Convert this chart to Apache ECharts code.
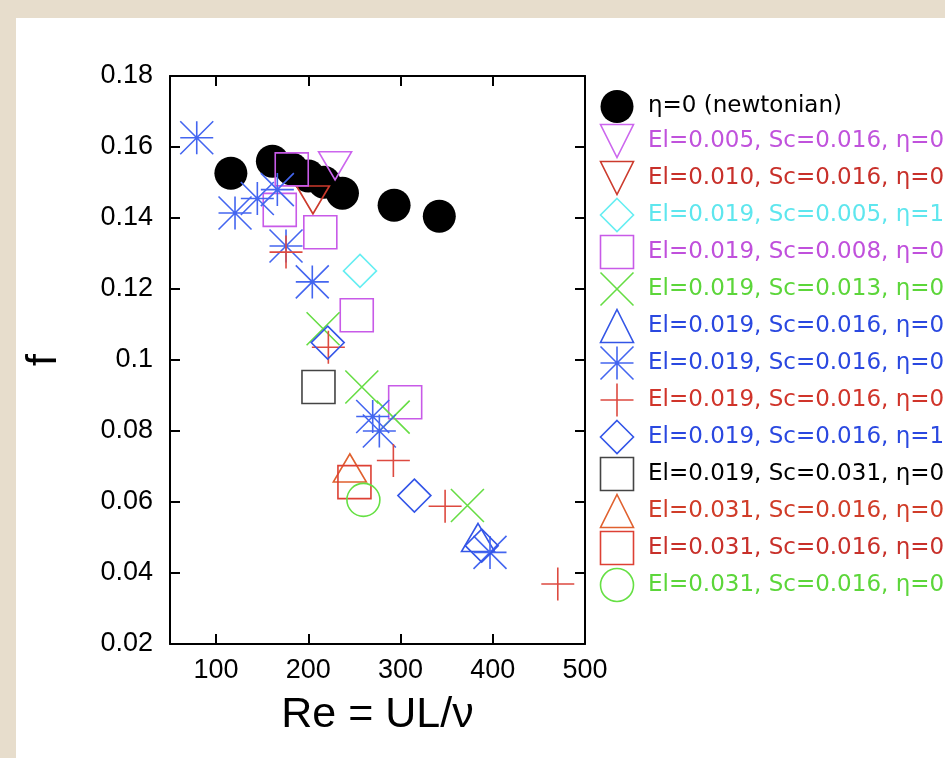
<!DOCTYPE html>
<html>
<head>
<meta charset="utf-8">
<script src="https://cdn.jsdelivr.net/npm/echarts@6/dist/echarts.min.js"></script>
<style>
  html, body { margin: 0; padding: 0; }
  body { width: 945px; height: 758px; background: #e7ddcc; position: relative; overflow: hidden; }
  #panel { position: absolute; left: 16px; top: 18px; right: 0; bottom: 0; background: #ffffff; }
  #chart { position: absolute; left: 0; top: 0; width: 945px; height: 758px; }
</style>
</head>
<body>
<div id="panel"></div>
<div id="chart"></div>
<script>
// ---- tick labels ----
const xTickLabels = [100, 200, 300, 400, 500];
const xTickMarks = [100, 200, 300, 400];
const yTickLabels = [0.02, 0.04, 0.06, 0.08, 0.10, 0.12, 0.14, 0.16, 0.18];
const yTickMarks = [0.04, 0.06, 0.08, 0.10, 0.12, 0.14, 0.16];

// ---- series names ----
const seriesNames = [
  'η=0 (newtonian)',
  'El=0.005, Sc=0.016, η=0.5',
  'El=0.010, Sc=0.016, η=0.5',
  'El=0.019, Sc=0.005, η=1',
  'El=0.019, Sc=0.008, η=0.5',
  'El=0.019, Sc=0.013, η=0.5',
  'El=0.019, Sc=0.016, η=0.1',
  'El=0.019, Sc=0.016, η=0.5',
  'El=0.019, Sc=0.016, η=0.9',
  'El=0.019, Sc=0.016, η=1',
  'El=0.019, Sc=0.031, η=0.5',
  'El=0.031, Sc=0.016, η=0.1',
  'El=0.031, Sc=0.016, η=0.5',
  'El=0.031, Sc=0.016, η=0.9'
];

// ---- data (Re, f) ----
const newtRe = [116, 161, 182, 200, 217, 237, 293, 342];
const newtF  = [0.1526, 0.1560, 0.1538, 0.1518, 0.1501, 0.1470, 0.1436, 0.1405];

const el005Re = [229];
const el005F  = [0.1547];

const el010Re = [205];
const el010F  = [0.1451];

const sc005Re = [256];
const sc005F  = [0.1251];

const sc008Re = [182, 169, 213, 252.5, 305];
const sc008F  = [0.1537, 0.1423, 0.1360, 0.1126, 0.0881];

const sc013Re = [216, 258, 292, 372.5];
const sc013F  = [0.1088, 0.0924, 0.0839, 0.0590];

const sc016aRe = [384];
const sc016aF  = [0.0500];

const sc016bRe = [79, 120.5, 144.7, 166.4, 175.8, 204.3, 269.8, 277, 397];
const sc016bF  = [0.1626, 0.1414, 0.1455, 0.1480, 0.1321, 0.1220, 0.0841, 0.0800, 0.0458];

const sc016cRe = [175.8, 221.7, 292.2, 348.3, 470.5];
const sc016cF  = [0.1304, 0.1036, 0.0717, 0.0588, 0.0369];

const sc016dRe = [221, 315, 388];
const sc016dF  = [0.1049, 0.0618, 0.0477];

const sc031Re = [211];
const sc031F  = [0.0924];

const el031aRe = [245];
const el031aF  = [0.0696];

const el031bRe = [250];
const el031bF  = [0.0656];

const el031cRe = [259.7];
const el031cF  = [0.0606];

// ---- styling ----
const SYM = {
  down: 'path://M0,0 L10,0 L5,8.66 Z',
  up: 'path://M5,0 L10,8.66 L0,8.66 Z',
  cross: 'path://M0,0 L10,10 M10,0 L0,10',
  plus: 'path://M5,0 L5,10 M0,5 L10,5',
  star: 'path://M5,0 L5,10 M0,5 L10,5 M0,0 L10,10 M10,0 L0,10',
  rect: 'path://M0,0 L10,0 L10,10 L0,10 Z',
  diamond: 'path://M5,0 L10,5 L5,10 L0,5 Z',
  circle: 'circle'
};

const defs = [
  { x: newtRe,   y: newtF,   sym: SYM.circle,  size: 33,       color: '#000000', text: '#000000', filled: true },
  { x: el005Re,  y: el005F,  sym: SYM.down,    size: [33, 28], color: '#cc66ee', text: '#c052dc' },
  { x: el010Re,  y: el010F,  sym: SYM.down,    size: [33, 28], color: '#cc3a2c', text: '#c8302a' },
  { x: sc005Re,  y: sc005F,  sym: SYM.diamond, size: 33,       color: '#66eef2', text: '#5ee6ee' },
  { x: sc008Re,  y: sc008F,  sym: SYM.rect,    size: 33,       color: '#c85ae8', text: '#c050dc' },
  { x: sc013Re,  y: sc013F,  sym: SYM.cross,   size: 33,       color: '#66dd44', text: '#5cd63a' },
  { x: sc016aRe, y: sc016aF, sym: SYM.up,      size: [33, 28], color: '#3355e6', text: '#2a48e0' },
  { x: sc016bRe, y: sc016bF, sym: SYM.star,    size: 33,       color: '#4466f0', text: '#2a48e0' },
  { x: sc016cRe, y: sc016cF, sym: SYM.plus,    size: 33,       color: '#dd4a40', text: '#d0342a' },
  { x: sc016dRe, y: sc016dF, sym: SYM.diamond, size: 33,       color: '#3355e8', text: '#2a48e0' },
  { x: sc031Re,  y: sc031F,  sym: SYM.rect,    size: 33,       color: '#444444', text: '#000000' },
  { x: el031aRe, y: el031aF, sym: SYM.up,      size: [33, 28], color: '#e0602e', text: '#d03c28' },
  { x: el031bRe, y: el031bF, sym: SYM.rect,    size: 33,       color: '#dd4034', text: '#c8302a' },
  { x: el031cRe, y: el031cF, sym: SYM.circle,  size: 33,       color: '#66e044', text: '#5cd63a' }
];

function styleOf(d) {
  return d.filled
    ? { color: d.color, borderWidth: 0, opacity: 1 }
    : { color: 'none', borderColor: d.color, borderWidth: 1.6, opacity: 1 };
}

const series = defs.map((d, i) => ({
  name: seriesNames[i],
  type: 'scatter',
  xAxisIndex: 0,
  yAxisIndex: 0,
  symbol: d.sym,
  symbolSize: d.size,
  itemStyle: styleOf(d),
  emphasis: { disabled: true },
  data: d.x.map((v, k) => [v, d.y[k]])
}));

const legendData = defs.map((d, i) => ({
  name: seriesNames[i],
  icon: d.sym,
  itemStyle: styleOf(d),
  textStyle: { color: d.text, padding: [0, 0, 0, 9.5] }
}));

const axisLineStyle = { show: true, onZero: false, lineStyle: { color: '#000', width: 2 } };
const tickStyle = { lineStyle: { color: '#000', width: 2 } };
const tickFont = { fontFamily: 'Liberation Sans, Arial, sans-serif', fontSize: 27, color: '#000' };

const chart = echarts.init(document.getElementById('chart'), null, { renderer: 'canvas' });
chart.setOption({
  animation: false,
  backgroundColor: 'transparent',
  grid: { left: 170, right: 360, top: 76, bottom: 114, containLabel: false, outerBoundsMode: 'none' },
  xAxis: [
    {
      type: 'value', min: 50, max: 500, position: 'bottom',
      axisLine: axisLineStyle,
      axisTick: Object.assign({ show: true, inside: true, length: 10, customValues: xTickMarks }, tickStyle),
      axisLabel: Object.assign({ show: true, margin: 13, customValues: xTickLabels }, tickFont),
      splitLine: { show: false },
      name: 'Re = UL/ν', nameLocation: 'middle', nameGap: 50,
      nameTextStyle: { fontFamily: 'Liberation Sans, Arial, sans-serif', fontSize: 43, color: '#000' }
    },
    {
      type: 'value', min: 50, max: 500, position: 'top',
      axisLine: axisLineStyle,
      axisTick: Object.assign({ show: true, inside: true, length: 10, customValues: xTickMarks }, tickStyle),
      axisLabel: { show: false },
      splitLine: { show: false }
    }
  ],
  yAxis: [
    {
      type: 'value', min: 0.02, max: 0.18, interval: 0.02, position: 'left',
      axisLine: axisLineStyle,
      axisTick: Object.assign({ show: true, inside: true, length: 10, customValues: yTickMarks }, tickStyle),
      axisLabel: Object.assign({ show: true, margin: 17, customValues: yTickLabels,
        formatter: v => String(+(+v).toFixed(2)) }, tickFont),
      splitLine: { show: false },
      name: 'f', nameLocation: 'middle', nameGap: 104, nameRotate: 90,
      nameTextStyle: { fontFamily: 'Liberation Sans, Arial, sans-serif', fontSize: 43, color: '#000' }
    },
    {
      type: 'value', min: 0.02, max: 0.18, interval: 0.02, position: 'right',
      axisLine: axisLineStyle,
      axisTick: Object.assign({ show: true, inside: true, length: 10, customValues: yTickMarks }, tickStyle),
      axisLabel: { show: false },
      splitLine: { show: false }
    }
  ],
  legend: {
    orient: 'vertical',
    left: 598,
    top: 90,
    itemWidth: 33,
    itemHeight: 33,
    itemGap: -1,
    padding: 0,
    selectedMode: false,
    symbolKeepAspect: false,
    textStyle: { fontFamily: 'DejaVu Sans, sans-serif', fontSize: 23, padding: [0, 0, 0, 9.5] },
    data: legendData
  },
  series: series
});
</script>
</body>
</html>
